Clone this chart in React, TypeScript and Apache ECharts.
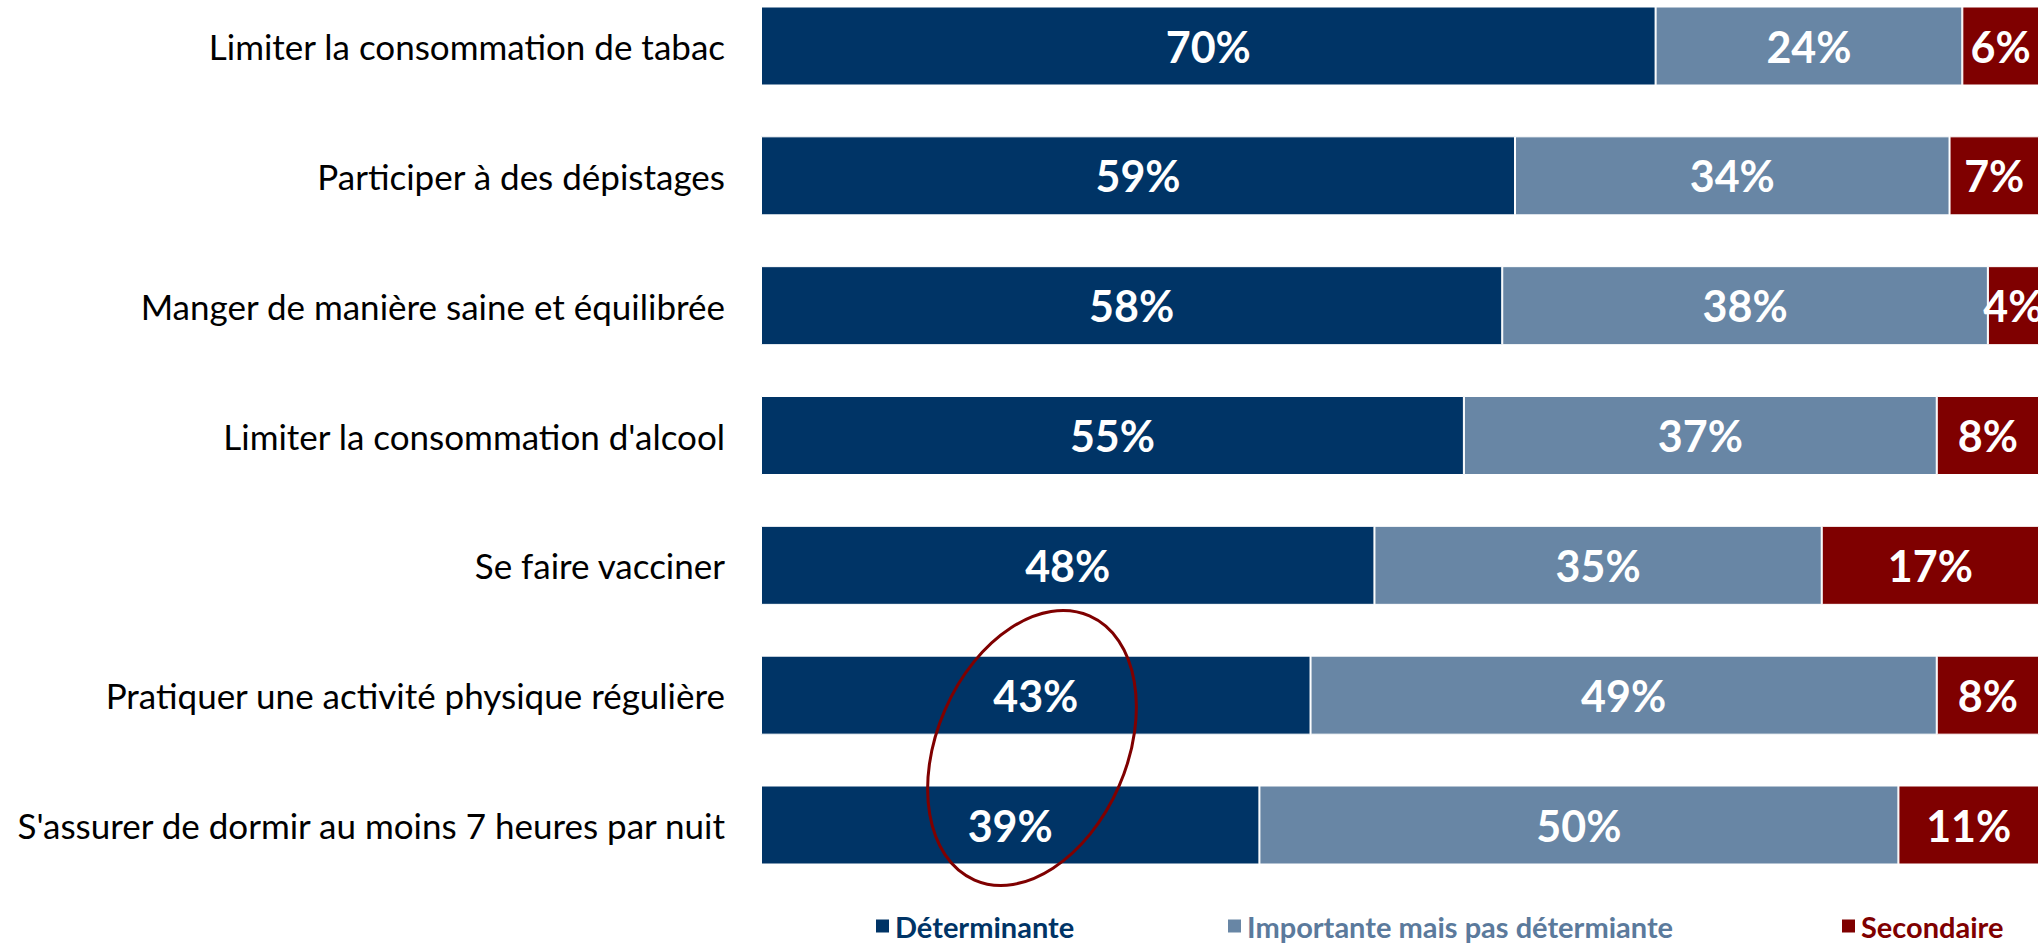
import React, { useEffect, useRef } from "react";
import * as echarts from "echarts";

const categories = [
  "Limiter la consommation de tabac",
  "Participer à des dépistages",
  "Manger de manière saine et équilibrée",
  "Limiter la consommation d'alcool",
  "Se faire vacciner",
  "Pratiquer une activité physique régulière",
  "S'assurer de dormir au moins 7 heures par nuit",
];
const seriesNames = ["Déterminante", "Importante mais pas détermiante", "Secondaire"];
const determinante = [70, 59, 58, 55, 48, 43, 39];
const importante = [24, 34, 38, 37, 35, 49, 50];
const secondaire = [6, 7, 4, 8, 17, 8, 11];
const colors = ["#003466", "#6886A5", "#7F0000"];
const legendTextColors = ["#003466", "#5B7A9C", "#7F0000"];

const FONT = "Lato, 'Open Sans', sans-serif";

export default function App() {
  const ref = useRef<HTMLDivElement>(null);
  useEffect(() => {
    if (!ref.current) return;
    const chart = echarts.init(ref.current, null, { renderer: "svg" });
    const values = [determinante, importante, secondaire];
    const legendLefts = [869, 1221, 1835];
    chart.setOption({
      animation: false,
      backgroundColor: "#ffffff",
      grid: { left: 761, right: 5, top: 46, height: 779 },
      xAxis: { type: "value", min: 0, max: 100, show: false },
      yAxis: {
        type: "category",
        data: categories,
        inverse: true,
        boundaryGap: false,
        axisLine: { show: false },
        axisTick: { show: false },
        splitLine: { show: false },
        axisLabel: { color: "#000", fontSize: 35, fontFamily: FONT, margin: 36 },
      },
      legend: seriesNames.map((n, i) => ({
        data: [{ name: n, textStyle: { color: legendTextColors[i] } }],
        left: legendLefts[i],
        top: 906,
        icon: "rect",
        itemWidth: 15,
        itemHeight: 15,
        selectedMode: false,
        textStyle: {
          fontSize: 29,
          lineHeight: 30,
          fontWeight: "bold",
          fontFamily: FONT,
          color: legendTextColors[i],
        },
      })),
      series: seriesNames.map((n, i) => ({
        name: n,
        type: "bar",
        stack: "total",
        barWidth: 79,
        clip: false,
        data: values[i],
        itemStyle: { color: colors[i], borderColor: "#ffffff", borderWidth: 1 },
        label: {
          show: true,
          position: "inside",
          formatter: "{c}%",
          color: "#fff",
          fontSize: 43,
          fontWeight: "bold",
          fontFamily: FONT,
        },
      })),
      graphic: [
        {
          type: "ellipse",
          x: 1032,
          y: 748,
          rotation: -0.41,
          z: 100,
          shape: { cx: 0, cy: 0, rx: 95, ry: 144 },
          style: { fill: "none", stroke: "#7F0000", lineWidth: 3 },
        },
      ],
    });
    return () => chart.dispose();
  }, []);
  return (
    <div
      ref={ref}
      style={{ position: "fixed", left: 0, top: 0, width: 2044, height: 944 }}
    />
  );
}
